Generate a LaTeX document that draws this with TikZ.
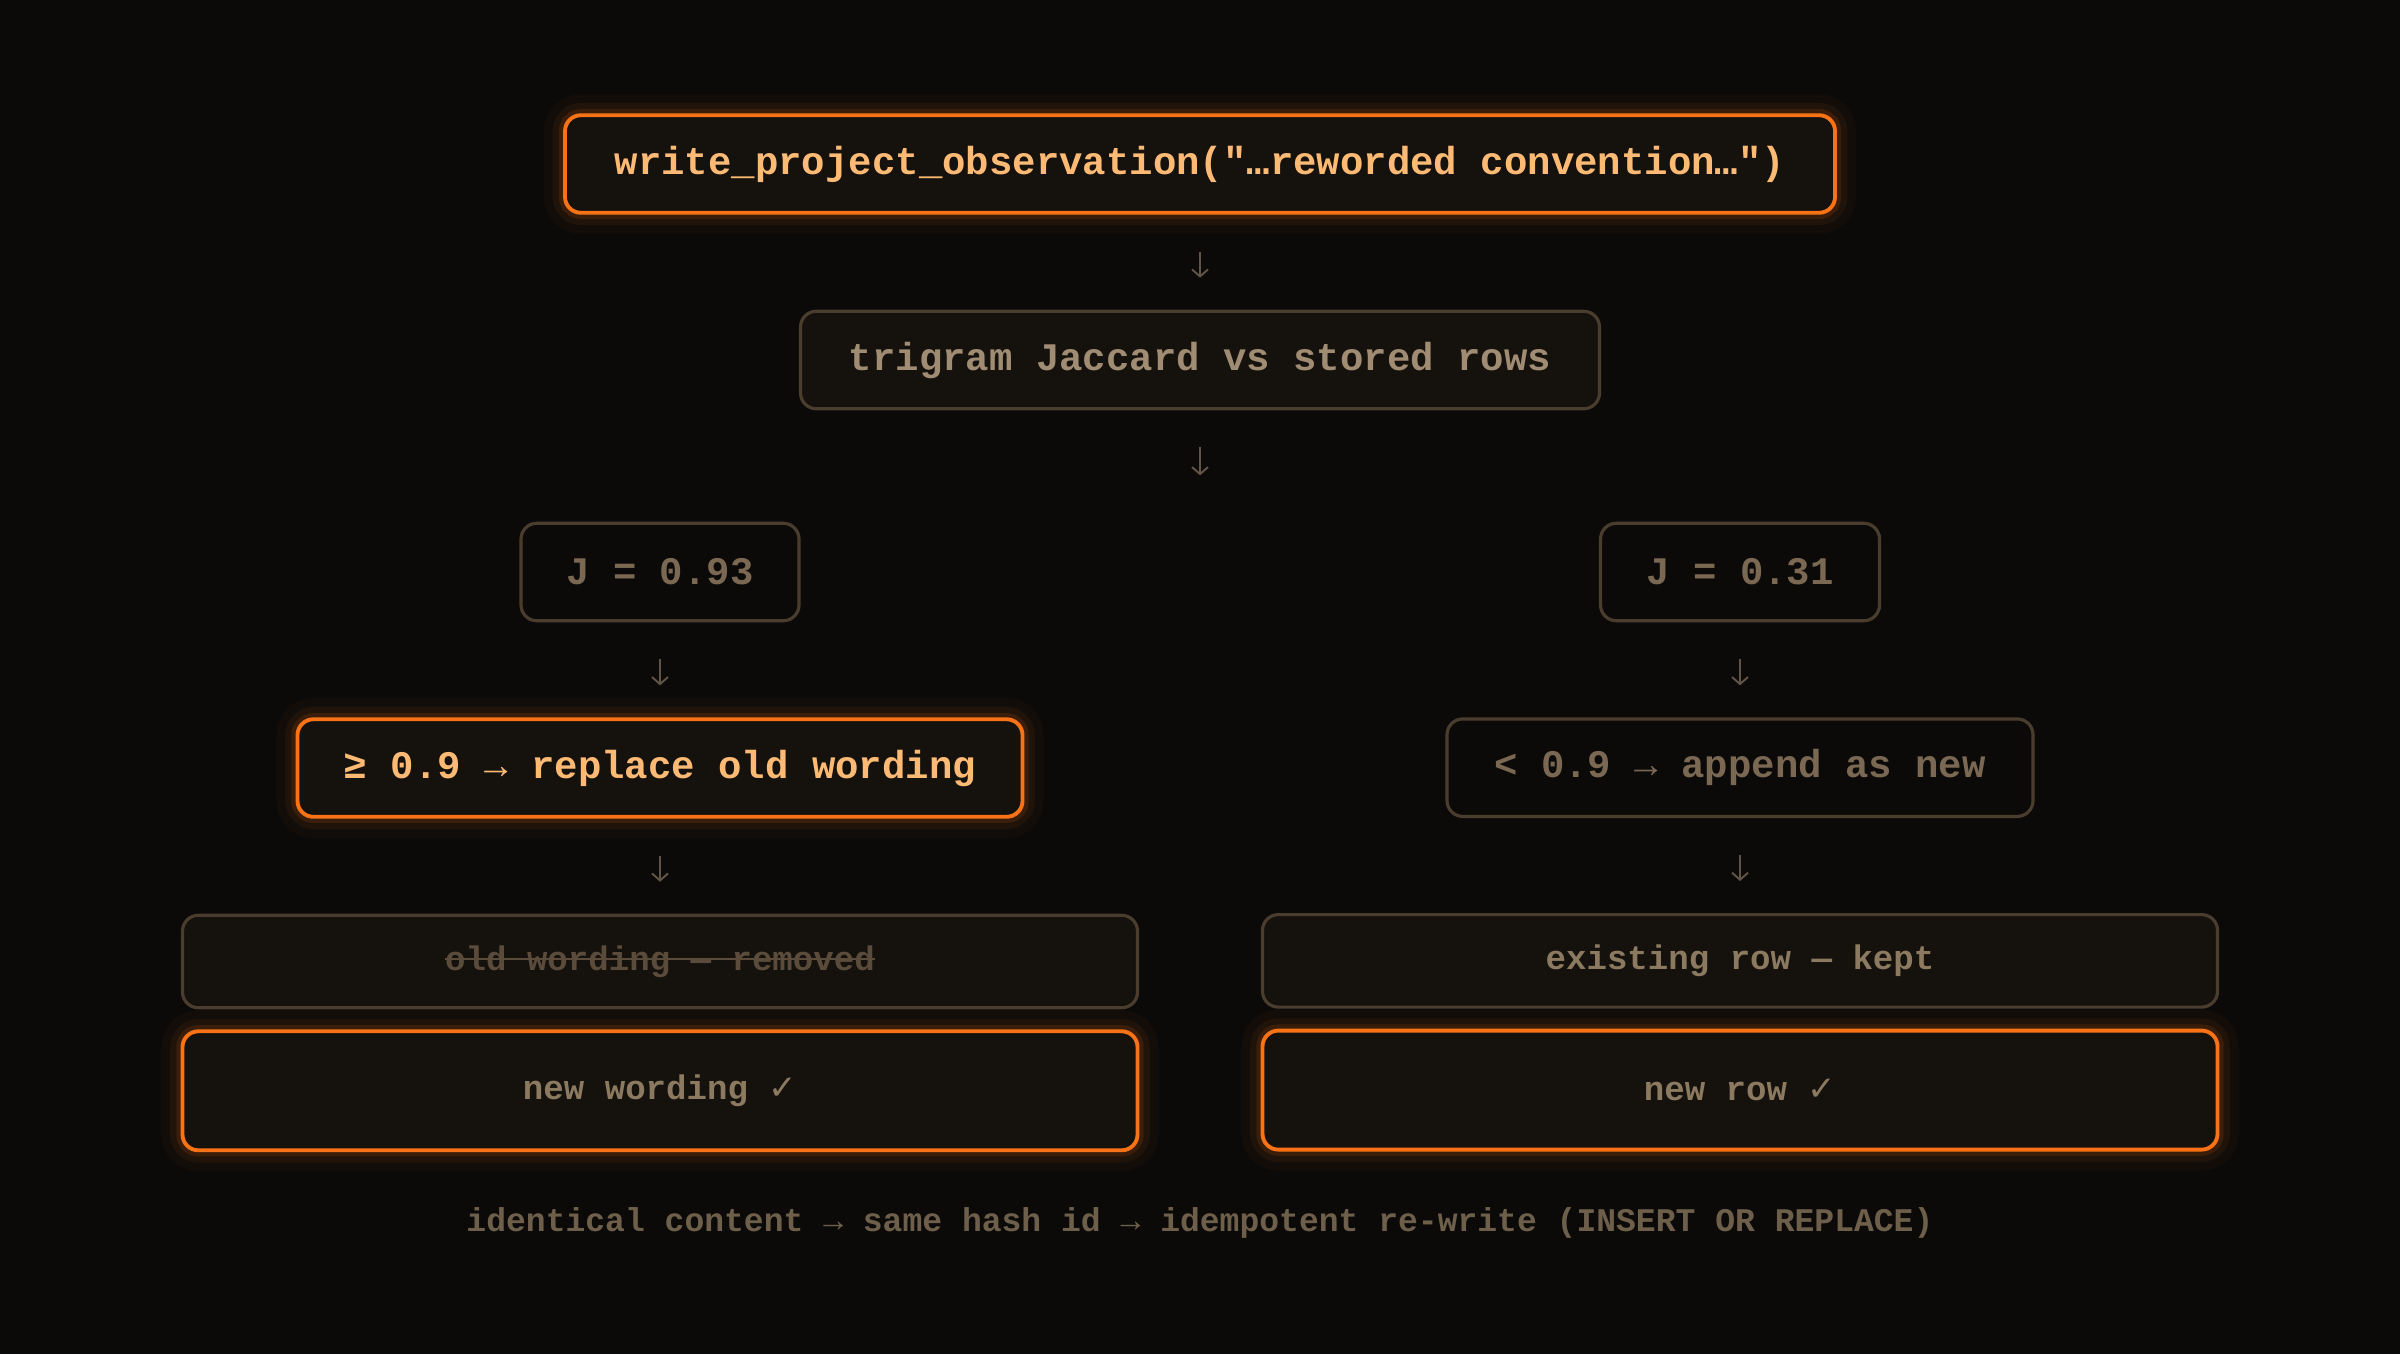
\documentclass[tikz,border=0pt]{standalone}
\usepackage{fontspec}
\setmonofont{Liberation Mono}
\newfontfamily\symfont{DejaVu Sans}
\usetikzlibrary{positioning,arrows.meta}

\definecolor{bgc}{HTML}{0B0A09}
\definecolor{boxfill}{HTML}{15110D}
\definecolor{accent}{HTML}{F97316}
\definecolor{accenttext}{HTML}{FDBA74}
\definecolor{dimline}{HTML}{4A3D2E}
\definecolor{brighttext}{HTML}{A08C72}
\definecolor{dimtext}{HTML}{7A6853}
\definecolor{rowtext}{HTML}{8C7A60}
\definecolor{oldtext}{HTML}{5A4B3A}
\definecolor{arrowc}{HTML}{5F5446}
\definecolor{notetext}{HTML}{6E5F4B}

\newcommand\mainfont{\ttfamily\bfseries\fontsize{11.1}{13}\selectfont}
\newcommand\rowfont{\ttfamily\bfseries\fontsize{9.7}{12}\selectfont}
\newcommand\notefont{\ttfamily\bfseries\fontsize{9.4}{12}\selectfont}
\newcommand\tick{{\symfont\mdseries ✓}}
\newcommand\struck[1]{\setbox0=\hbox{#1}\rlap{\raisebox{0.3em}{\rule{\wd0}{0.6pt}}}\box0}

\tikzset{
  box/.style={rectangle, rounded corners=4.5pt, line width=0.9pt, minimum height=0.975cm, font=\mainfont},
  glow/.style={preaction={draw=accent, line width=12pt, opacity=0.035},
               preaction={draw=accent, line width=7pt, opacity=0.06},
               preaction={draw=accent, line width=3.5pt, opacity=0.12}},
  litbox/.style={box, glow, draw=accent, line width=1.1pt, fill=boxfill, text=accenttext},
  dimbox/.style={box, draw=dimline, fill=bgc, text=dimtext},
  rowbox/.style={box, draw=dimline, fill=boxfill, text=rowtext, minimum width=9.55cm, minimum height=0.925cm, font=\rowfont},
  newbox/.style={rowbox, glow, draw=accent, line width=1.1pt, minimum height=1.19cm},
  flow/.style={draw=arrowc, line width=0.55pt, -{Straight Barb[length=0.7mm, width=1.6mm]}, shorten <=0.37cm, shorten >=0.32cm}
}

\begin{document}
\begin{tikzpicture}
\fill[bgc] (0,0) rectangle (24,-13.54);
\useasboundingbox (0,0) rectangle (24,-13.54);

% main path
\node[litbox, minimum width=12.7cm] (call) at (12,-1.64) {write\_project\_observation("…reworded convention…")};
\node[box, draw=dimline, fill=boxfill, text=brighttext, minimum width=7.99cm, below=0.95cm of call] (jac) {trigram Jaccard vs stored rows};
\coordinate[below=0.65cm of jac] (split);

% left branch
\node[dimbox, minimum width=2.78cm] (hi) at (6.6,-5.72) {J = 0.93};
\node[litbox, minimum width=7.25cm, below=0.95cm of hi] (repl) {≥ 0.9 → replace old wording};
\node[rowbox, text=oldtext, below=0.95cm of repl] (old) {\struck{old wording — removed}};
\node[newbox, below=0.2cm of old] (neww) {new wording \tick};

% right branch
\node[dimbox, minimum width=2.79cm] (lo) at (17.4,-5.72) {J = 0.31};
\node[dimbox, minimum width=5.86cm, below=0.95cm of lo] (app) {< 0.9 → append as new};
\node[rowbox, below=0.95cm of app] (keep) {existing row — kept};
\node[newbox, below=0.2cm of keep] (newr) {new row \tick};

\node[font=\notefont, text=notetext] (note) at (12,-12.23) {identical content → same hash id → idempotent re-write (INSERT OR REPLACE)};

% connectors
\draw[flow] (call) -- (jac);
\draw[flow, shorten >=0cm] (jac) -- (split);
\draw[flow] (hi) -- (repl);
\draw[flow] (repl) -- (old);
\draw[flow] (lo) -- (app);
\draw[flow] (app) -- (keep);
\end{tikzpicture}
\end{document}
